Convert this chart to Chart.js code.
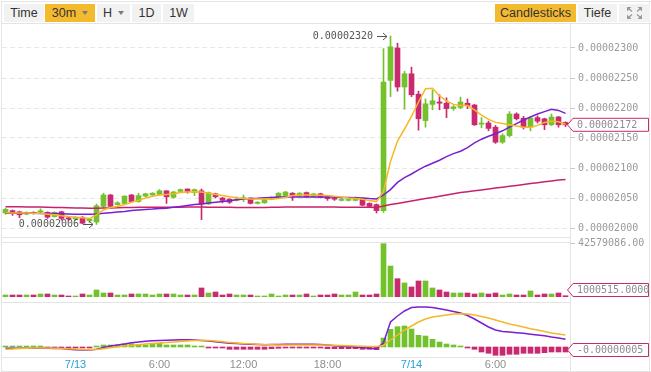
<!DOCTYPE html>
<html>
<head>
<meta charset="utf-8">
<title>BTC 30m chart</title>
<script src="https://cdn.jsdelivr.net/npm/chart.js@4.4.1/dist/chart.umd.min.js"></script>
<style>
    body { margin: 0; background: #fff; font-family: "Liberation Sans", Arial, sans-serif; }
    #wrap { position: relative; width: 651px; height: 372px; overflow: hidden; }
    .line { position: absolute; background: #e4e4e4; }
    .btn { position: absolute; top: 4px; height: 18px; line-height: 18px; background: #f2f2f2;
           color: #333; font-size: 12.5px; text-align: center; }
    .btn.on { background: #f3ba2f; }
    .caret { display: inline-block; width: 0; height: 0; margin-left: 6px; vertical-align: 2px;
             border-left: 3.5px solid transparent; border-right: 3.5px solid transparent; border-top: 4px solid #7a7a7a; }
    canvas { position: absolute; left: 0; }
</style>
</head>
<body>
<div id="wrap">
    <!-- frame -->
    <div class="line" style="left:1px;top:1px;width:650px;height:1px"></div>
    <div class="line" style="left:1px;top:1px;width:1px;height:371px"></div>
    <div class="line" style="left:649px;top:1px;width:1px;height:371px"></div>
    <div class="line" style="left:1px;top:23px;width:650px;height:1px"></div>
    <div class="line" style="left:570px;top:23px;width:1px;height:348px"></div>
    <div class="line" style="left:1px;top:237px;width:570px;height:1px"></div>
    <div class="line" style="left:1px;top:242px;width:570px;height:1px"></div>
    <div class="line" style="left:1px;top:302px;width:570px;height:1px"></div>
    <div class="line" style="left:1px;top:357px;width:570px;height:1px"></div>
    <div class="line" style="left:1px;top:371px;width:650px;height:1px"></div>

    <!-- toolbar -->
    <div class="btn" style="left:4px;width:40px">Time</div>
    <div class="btn on" style="left:45px;width:50px">30m<span class="caret"></span></div>
    <div class="btn" style="left:97px;width:33px">H<span class="caret"></span></div>
    <div class="btn" style="left:132px;width:29px">1D</div>
    <div class="btn" style="left:163px;width:31px">1W</div>
    <div class="btn on" style="left:495px;width:81px">Candlesticks</div>
    <div class="btn" style="left:578px;width:39px">Tiefe</div>
    <div class="btn" style="left:619px;width:31px">
        <svg width="15" height="12" viewBox="0 0 15 12" style="margin-top:3px">
            <g fill="#9a9a9a" stroke="#9a9a9a" stroke-width="1.3">
                <path d="M0 0h4.5L0 4.5z" stroke="none"/><path d="M1.5 1.5l3.5 3"/>
                <path d="M15 0h-4.5L15 4.5z" stroke="none"/><path d="M13.5 1.5l-3.5 3"/>
                <path d="M0 12h4.5L0 7.5z" stroke="none"/><path d="M1.5 10.5l3.5-3"/>
                <path d="M15 12h-4.5L15 7.5z" stroke="none"/><path d="M13.5 10.5l-3.5-3"/>
            </g>
        </svg>
    </div>

    <canvas id="mainChart" width="651" height="213" style="top:24px"></canvas>
    <canvas id="volChart" width="651" height="60" style="top:237px"></canvas>
    <canvas id="macdChart" width="651" height="75" style="top:297px"></canvas>
</div>

<script>
// Prices are in units of 0.00000001 (satoshi), one candle per 30 minutes, 7/12 19:00 .. 7/14 11:00
const candleOpen = [
    2025, 2029, 2027, 2023, 2026, 2027, 2026, 2019, 2027, 2017,
    2015, 2018, 2012, 2010, 2036, 2055, 2039, 2041, 2055, 2044,
    2053, 2055, 2056, 2062, 2051, 2061, 2065, 2059, 2062, 2040,
    2057, 2050, 2048, 2046, 2049, 2050, 2041, 2042, 2048, 2051,
    2054, 2058, 2053, 2059, 2052, 2057, 2052, 2050, 2046, 2046,
    2046, 2049, 2041, 2039, 2029, 2246, 2300, 2235, 2257, 2223,
    2179, 2206, 2210, 2208, 2199, 2201, 2208, 2205, 2173, 2175,
    2168, 2143, 2154, 2190, 2183, 2168, 2184, 2182, 2172, 2185, 2176
];
const candleHigh = [
    2033, 2030, 2028, 2027, 2027, 2032, 2027, 2027, 2028, 2018,
    2019, 2019, 2016, 2040, 2058, 2056, 2044, 2054, 2056, 2058,
    2058, 2059, 2064, 2062, 2061, 2065, 2065, 2065, 2065, 2060,
    2058, 2051, 2049, 2052, 2055, 2050, 2044, 2049, 2052, 2059,
    2061, 2059, 2059, 2060, 2058, 2058, 2053, 2051, 2049, 2048,
    2052, 2050, 2042, 2040, 2299, 2320, 2308, 2261, 2268, 2228,
    2215, 2230, 2222, 2217, 2204, 2218, 2215, 2206, 2184, 2178,
    2171, 2157, 2194, 2192, 2186, 2186, 2187, 2183, 2190, 2186, 2177
];
const candleLow = [
    2023, 2021, 2017, 2022, 2023, 2024, 2016, 2018, 2013, 2012,
    2013, 2007, 2009, 2006, 2034, 2033, 2038, 2040, 2043, 2043,
    2052, 2054, 2055, 2041, 2050, 2060, 2058, 2054, 2014, 2039,
    2050, 2042, 2041, 2045, 2044, 2040, 2040, 2041, 2047, 2050,
    2053, 2046, 2052, 2051, 2051, 2050, 2046, 2046, 2045, 2045,
    2045, 2037, 2035, 2025, 2026, 2219, 2228, 2198, 2219, 2163,
    2168, 2197, 2197, 2184, 2196, 2199, 2199, 2171, 2167, 2162,
    2141, 2141, 2152, 2180, 2165, 2162, 2175, 2164, 2171, 2168, 2169
];
const candleClose = [
    2031, 2025, 2022, 2026, 2024, 2028, 2018, 2026, 2016, 2015,
    2018, 2008, 2015, 2037, 2055, 2036, 2042, 2053, 2044, 2054,
    2057, 2058, 2062, 2052, 2060, 2064, 2061, 2064, 2040, 2059,
    2052, 2046, 2043, 2048, 2050, 2041, 2043, 2048, 2051, 2058,
    2060, 2053, 2058, 2052, 2057, 2051, 2049, 2048, 2047, 2047,
    2051, 2038, 2036, 2029, 2243, 2302, 2235, 2257, 2222, 2182,
    2207, 2212, 2208, 2199, 2202, 2210, 2204, 2172, 2175, 2166,
    2143, 2154, 2190, 2182, 2168, 2183, 2178, 2172, 2185, 2172, 2172
];
const volume = [
    1600000, 1600000, 1600000, 1600000, 1600000, 2400000, 2400000, 1600000, 1600000, 800000,
    800000, 2400000, 1600000, 5600000, 3200000, 3200000, 1600000, 1600000, 2400000, 2400000,
    2400000, 1600000, 2400000, 2400000, 2400000, 1600000, 1600000, 1600000, 7200000, 3200000,
    4000000, 1600000, 2400000, 1600000, 1600000, 1600000, 800000, 800000, 2400000, 800000,
    1600000, 1600000, 1600000, 2400000, 800000, 1600000, 1600000, 2400000, 1600000, 1600000,
    4000000, 1600000, 1600000, 2400000, 42579086, 24700000, 14600000, 11200000, 8000000, 12800000,
    12800000, 7200000, 5600000, 4000000, 3200000, 3200000, 3200000, 2400000, 3200000, 2400000,
    3200000, 1600000, 2400000, 1600000, 1600000, 4800000, 1600000, 2400000, 2400000, 3200000, 1000515
];
// moving averages as shown on the chart
const ma7 = [
    2025.5, 2025, 2025, 2025, 2024.5, 2024, 2023, 2022, 2020.5, 2019,
    2018, 2017, 2016, 2022, 2030, 2034, 2036, 2039, 2043, 2046,
    2050, 2053, 2055, 2056, 2057, 2059, 2060, 2060.5, 2060, 2058,
    2056, 2054, 2052, 2050.5, 2049, 2048.5, 2048.3, 2048.3, 2048.5, 2049,
    2051, 2054, 2055, 2055, 2055, 2054.5, 2054, 2053, 2051.5, 2050,
    2049, 2048, 2046, 2044, 2061, 2111, 2145, 2165, 2186, 2210,
    2232, 2233, 2220, 2212, 2206, 2204, 2204, 2197, 2188, 2181,
    2176, 2174, 2172, 2170, 2168, 2168, 2171, 2176, 2178, 2177, 2173
];
const ma25 = [
    2024.5, 2024.5, 2024.5, 2024.5, 2024.5, 2024.3, 2024, 2024, 2023.8, 2023.5,
    2023, 2022.8, 2022.8, 2023.5, 2024.5, 2025.5, 2026.5, 2027.5, 2029, 2030,
    2031, 2031.5, 2032.5, 2033, 2034.5, 2036, 2037.5, 2039, 2040, 2041.5,
    2043, 2044, 2045.5, 2047, 2048.5, 2049, 2049.5, 2050.5, 2051, 2051.5,
    2051.7, 2051.7, 2051.7, 2051.7, 2051.7, 2051.7, 2051.7, 2051.5, 2051, 2050.7,
    2050.5, 2050, 2049, 2048.3, 2055, 2064, 2076, 2084, 2090, 2097,
    2103, 2108, 2113, 2119, 2124, 2128, 2134, 2142, 2148, 2153,
    2157, 2162, 2168, 2174, 2180, 2185, 2190, 2194, 2198, 2196, 2191
];
const ma99 = [
    2035.5, 2035.5, 2035.3, 2035, 2035, 2034.8, 2034.5, 2034.3, 2034, 2033.8,
    2033.5, 2033.3, 2033, 2033, 2033.2, 2033.5, 2033.8, 2034, 2034.2, 2034.4,
    2034.5, 2034.5, 2034.6, 2034.6, 2034.7, 2034.7, 2034.8, 2034.8, 2034.8, 2034.7,
    2034.6, 2034.5, 2034.4, 2034.3, 2034.3, 2034.2, 2034.2, 2034.3, 2034.4, 2034.6,
    2034.8, 2035, 2035, 2035, 2035, 2035, 2034.9, 2034.8, 2034.7, 2034.6,
    2034.5, 2034.5, 2034.4, 2034.3, 2036.5, 2039, 2041, 2043, 2045, 2047,
    2049, 2051, 2053, 2055, 2057, 2059, 2060.5, 2062, 2063.5, 2065,
    2066.5, 2068, 2069.5, 2071, 2072.5, 2074, 2075.5, 2077, 2078.5, 2080, 2081
];
// MACD pane, same units
const macdDif = [
    -1.3, -1.3, -1.3, -1.3, -1.3, -1.3, -1.3, -1.4, -1.6, -2.2,
    -2.8, -3.1, -3.0, -2.3, -0.5, 1.0, 2.0, 3.0, 4.3, 5.0,
    5.7, 6.2, 6.5, 6.7, 7.0, 7.3, 7.3, 7.0, 6.6, 6.0,
    5.2, 4.5, 3.8, 3.4, 3.0, 2.7, 2.5, 2.3, 2.4, 2.6,
    2.7, 2.7, 2.7, 2.7, 2.7, 2.4, 2.0, 1.3, 0.8, 0.5,
    0.0, -0.6, -1.2, -1.7, 4.3, 25, 31, 36, 39.5, 40,
    40, 39.5, 38.3, 37, 35.5, 34, 31.5, 28, 24, 20,
    17, 15.5, 15, 14.3, 13.7, 12.8, 12, 11.2, 10, 9, 7.7
];
const macdDea = [
    -2.3, -2.0, -1.6, -1.3, -1.1, -1.0, -1.1, -1.3, -1.5, -1.7,
    -2.1, -2.6, -2.7, -2.4, -1.7, -0.7, 0.3, 1.0, 1.6, 2.3,
    3.0, 3.5, 4.0, 4.4, 5.0, 5.6, 6.1, 6.5, 6.7, 6.5,
    6.0, 5.3, 4.6, 4.0, 3.5, 3.2, 2.8, 2.4, 2.2, 2.0,
    2.0, 2.0, 2.0, 2.0, 2.0, 2.0, 1.9, 1.7, 1.5, 1.2,
    1.0, 0.8, 0.6, 0.4, 1.5, 7, 12, 17, 21, 25,
    28, 30, 31, 32, 33, 33.3, 33, 32, 30.5, 29,
    27, 25, 23, 21.5, 20, 18.3, 17, 15.5, 14, 13, 12
];
const macdHist = [
    1, 1, 0.3, 0.3, 0.3, 0.3, -0.3, -0.3, -0.3, -1,
    -1, -1, -1, 0.3, 2, 2, 2, 3.3, 3.3, 2.7,
    2, 2.7, 3.7, 2, 2, 2, 2, 1, 0.3, -0.3,
    -1, -1, -2.3, -2.3, -2.3, -2.3, -2.3, -2.3, -1.7, -1.3,
    -0.3, -1, -0.3, -1, -1, -1, -1.7, -1.7, -1.7, -1.7,
    -1.7, -2.3, -2.3, -2.7, 9, 17.7, 20.3, 21, 18, 11.7,
    11, 7.7, 5, 3, 2, 0.3, -0.7, -2.3, -5, -6.3,
    -8.3, -8.3, -7.3, -7.3, -6.3, -6.3, -6.3, -5.7, -5, -5, -5
];
const priceTicks = [2000, 2050, 2100, 2150, 2200, 2250, 2300];
const timeTickIdx = [10, 22, 34, 46, 58, 70];
const timeTickLabels = ['7/13', '6:00', '12:00', '18:00', '7/14', '6:00'];

// colours
const UP = '#74c12e';
const DOWN = '#c92a6f';
const MA7_COLOR = '#f6b826';
const MA25_COLOR = '#7a1fd2';
const MA99_COLOR = '#c9216a';
const DATE_BLUE = '#2a9dd8';
const MONO = '"DejaVu Sans Mono", monospace';

// plot area runs from x=2 to x=570, 7px per candle
const X_MIN = -0.5;
const X_MAX = X_MIN + 568 / 7;

Chart.defaults.animation = false;
Chart.defaults.font.family = '"Liberation Sans", Arial, sans-serif';

const candleColors = candleOpen.map((o, i) => candleClose[i] >= o ? UP : DOWN);
const toSat = v => (v / 1e8).toFixed(8);
const points = arr => arr.map((v, i) => ({ x: i, y: v }));

function fitRightAxis(scale) {
    scale.width = 81;
    scale.paddingTop = 0;
    scale.paddingBottom = 0;
}

function hiddenX() {
    return { type: 'linear', min: X_MIN, max: X_MAX, offset: false, display: false };
}

function lineSet(data, color) {
    return {
        type: 'line', data: points(data), borderColor: color, borderWidth: 1.5,
        pointRadius: 0, order: 0
    };
}

// small box with a pointed left side on the price axis
function drawTag(chart, value, text) {
    const { ctx, chartArea } = chart;
    let y = chart.scales.y.getPixelForValue(value);
    y = Math.max(chartArea.top + 7, Math.min(chartArea.bottom - 7, y));
    const x0 = chartArea.right - 2.5, x1 = x0 + 5.5, x2 = 648.5;
    ctx.save();
    ctx.beginPath();
    ctx.moveTo(x0, y);
    ctx.lineTo(x1, y - 6.5);
    ctx.lineTo(x2, y - 6.5);
    ctx.lineTo(x2, y + 6.5);
    ctx.lineTo(x1, y + 6.5);
    ctx.closePath();
    ctx.fillStyle = '#fff';
    ctx.fill();
    ctx.strokeStyle = DOWN;
    ctx.lineWidth = 1;
    ctx.stroke();
    ctx.fillStyle = '#8c8c8c';
    ctx.font = '10px ' + MONO;
    ctx.textBaseline = 'middle';
    ctx.fillText(text, x1 + 4, y + 0.5);
    ctx.restore();
}

// "0.000023xx ->" markers for the highest and lowest price
function drawExtreme(chart, idx, value) {
    const { ctx } = chart;
    const x = Math.round(chart.scales.x.getPixelForValue(idx));
    const y = Math.round(chart.scales.y.getPixelForValue(value)) + 0.5;
    ctx.save();
    ctx.strokeStyle = '#555';
    ctx.lineWidth = 1;
    ctx.beginPath();
    ctx.moveTo(x - 14, y);
    ctx.lineTo(x - 4, y);
    ctx.moveTo(x - 8, y - 3.5);
    ctx.lineTo(x - 4, y);
    ctx.lineTo(x - 8, y + 3.5);
    ctx.stroke();
    ctx.fillStyle = '#555';
    ctx.font = '10px ' + MONO;
    ctx.textAlign = 'right';
    ctx.textBaseline = 'middle';
    ctx.fillText(toSat(value), x - 18, y);
    ctx.restore();
}

function createMainChart() {
    const hi = Math.max(...candleHigh);
    const lo = Math.min(...candleLow);
    const last = candleClose.length - 1;

    new Chart(document.getElementById('mainChart'), {
        type: 'bar',
        data: {
            datasets: [
                lineSet(ma7, MA7_COLOR),
                lineSet(ma25, MA25_COLOR),
                lineSet(ma99, MA99_COLOR),
                {
                    data: candleOpen.map((o, i) => ({ x: i, y: [o, candleClose[i]] })),
                    backgroundColor: candleColors, barThickness: 5, maxBarThickness: 5,
                    minBarLength: 1, grouped: false, order: 1
                },
                {
                    data: candleLow.map((l, i) => ({ x: i, y: [l, candleHigh[i]] })),
                    backgroundColor: candleColors, barThickness: 1, maxBarThickness: 1,
                    grouped: false, order: 2
                }
            ]
        },
        options: {
            responsive: false,
            devicePixelRatio: 1,
            layout: { autoPadding: false, padding: { left: 2 } },
            plugins: { legend: { display: false }, tooltip: { enabled: false } },
            scales: {
                x: hiddenX(),
                y: {
                    position: 'right', min: 1985, max: 2340,
                    afterBuildTicks: s => { s.ticks = priceTicks.map(v => ({ value: v })); },
                    afterFit: fitRightAxis,
                    grid: { color: '#e8e8e8', tickColor: '#c8c8c8', tickLength: 5 },
                    border: { display: false, dash: [5, 3] },
                    ticks: { padding: 3, color: '#9a9a9a', font: { family: MONO, size: 10 }, callback: toSat }
                }
            }
        },
        plugins: [{
            id: 'mainMarks',
            afterDraw(chart) {
                drawExtreme(chart, candleHigh.indexOf(hi), hi);
                drawExtreme(chart, candleLow.indexOf(lo), lo);
                drawTag(chart, candleClose[last], toSat(candleClose[last]));
            }
        }]
    });
}

function createVolumeChart() {
    const volMax = Math.max(...volume);
    const last = volume.length - 1;

    new Chart(document.getElementById('volChart'), {
        type: 'bar',
        data: {
            datasets: [{
                data: points(volume), backgroundColor: candleColors,
                barThickness: 5, maxBarThickness: 5, grouped: false
            }]
        },
        options: {
            responsive: false,
            devicePixelRatio: 1,
            layout: { autoPadding: false, padding: { left: 2, top: 6 } },
            plugins: { legend: { display: false }, tooltip: { enabled: false } },
            scales: {
                x: hiddenX(),
                y: {
                    position: 'right', min: 0, max: 43100000,
                    afterBuildTicks: s => { s.ticks = [{ value: volMax }]; },
                    afterFit: fitRightAxis,
                    grid: { drawOnChartArea: false, tickColor: '#c8c8c8', tickLength: 5 },
                    border: { display: false },
                    ticks: { padding: 3, color: '#9a9a9a', font: { family: MONO, size: 10 }, callback: v => v.toFixed(2) }
                }
            }
        },
        plugins: [{
            id: 'volTag',
            afterDraw(chart) { drawTag(chart, volume[last], volume[last].toFixed(4)); }
        }]
    });
}

function createMacdChart() {
    const last = macdHist.length - 1;

    new Chart(document.getElementById('macdChart'), {
        type: 'bar',
        data: {
            datasets: [
                lineSet(macdDea, MA7_COLOR),
                lineSet(macdDif, MA25_COLOR),
                {
                    data: points(macdHist),
                    backgroundColor: macdHist.map(v => v >= 0 ? UP : DOWN),
                    barThickness: 5, maxBarThickness: 5, minBarLength: 1, grouped: false, order: 1
                }
            ]
        },
        options: {
            responsive: false,
            devicePixelRatio: 1,
            layout: { autoPadding: false, padding: { left: 2, top: 6 } },
            plugins: { legend: { display: false }, tooltip: { enabled: false } },
            scales: {
                x: {
                    type: 'linear', min: X_MIN, max: X_MAX, offset: false, position: 'bottom',
                    afterBuildTicks: s => { s.ticks = timeTickIdx.map(v => ({ value: v })); },
                    afterFit: s => { s.height = 15; s.paddingLeft = 0; s.paddingRight = 0; },
                    grid: { display: false, drawTicks: false },
                    border: { display: false },
                    ticks: {
                        autoSkip: false, maxRotation: 0, padding: 1,
                        font: { size: 11 },
                        color: c => timeTickLabels[c.index].includes('/') ? DATE_BLUE : '#8f8f8f',
                        callback: v => timeTickLabels[timeTickIdx.indexOf(v)]
                    }
                },
                y: {
                    position: 'right', min: -10, max: 44,
                    afterFit: fitRightAxis,
                    grid: { display: false },
                    border: { display: false },
                    ticks: { display: false }
                }
            }
        },
        plugins: [{
            id: 'macdTag',
            afterDraw(chart) { drawTag(chart, macdHist[last], toSat(macdHist[last])); }
        }]
    });
}

createMainChart();
createVolumeChart();
createMacdChart();
</script>
</body>
</html>
